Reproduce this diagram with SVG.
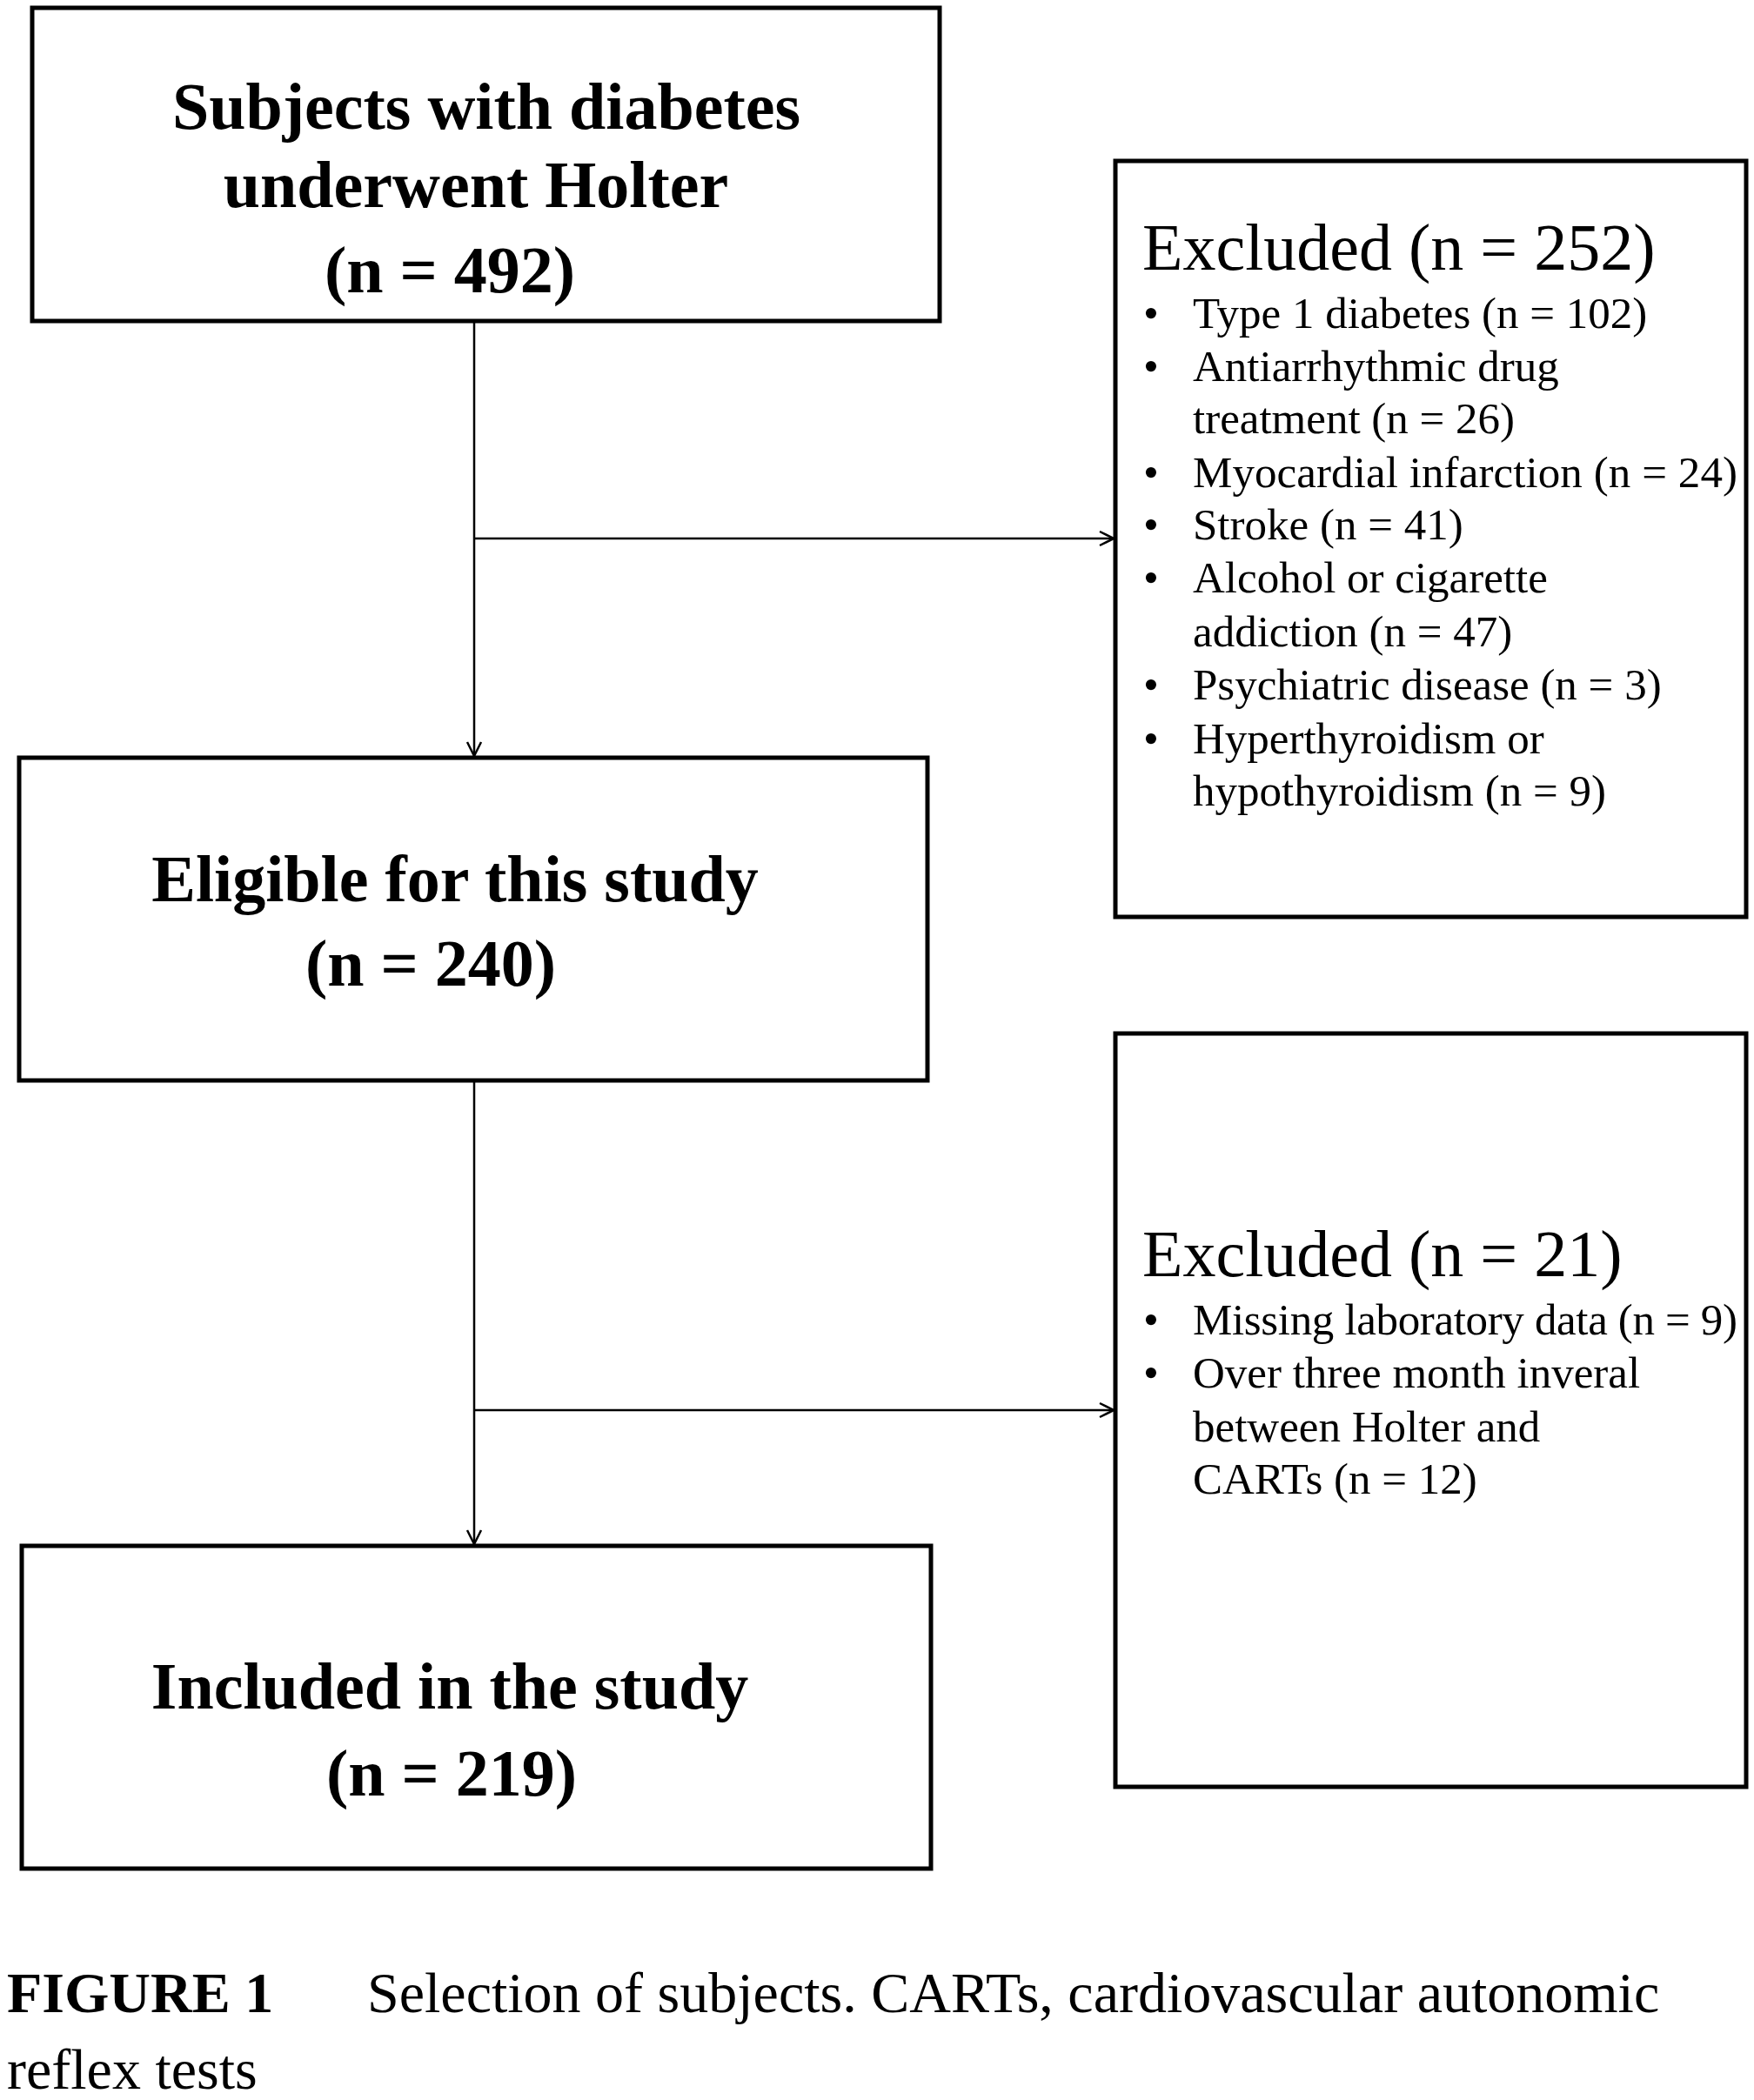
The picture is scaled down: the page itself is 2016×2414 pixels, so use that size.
<svg xmlns="http://www.w3.org/2000/svg" width="2016" height="2414" viewBox="0 0 2016 2414">
<style>
.box{fill:#fff;stroke:#000;stroke-width:5}
.b{font-family:"Liberation Serif",serif;font-weight:bold;font-size:76px;text-anchor:middle}
.t{font-family:"Liberation Serif",serif;font-size:76px}
.s{font-family:"Liberation Serif",serif;font-size:51px}
.c{font-family:"Liberation Serif",serif;font-size:66px}
.ln{stroke:#000;stroke-width:2.5;fill:none}
</style>
<defs><marker id="a" markerWidth="20" markerHeight="20" refX="18" refY="10" orient="auto" markerUnits="userSpaceOnUse"><path d="M2,2 L18,10 L2,18" fill="none" stroke="#000" stroke-width="2.5"/></marker></defs>
<rect width="2016" height="2414" fill="#fff"/>
<g id="connectors">
<line class="ln" x1="545" y1="369" x2="545" y2="869" marker-end="url(#a)"/>
<line class="ln" x1="545" y1="619" x2="1280" y2="619" marker-end="url(#a)"/>
<line class="ln" x1="545" y1="1242" x2="545" y2="1775" marker-end="url(#a)"/>
<line class="ln" x1="545" y1="1621" x2="1280" y2="1621" marker-end="url(#a)"/>
</g>
<g id="n1"><rect class="box" x="37" y="9" width="1043" height="360"/>
<text class="b" x="559" y="148">Subjects with diabetes</text><text class="b" x="547" y="238">underwent Holter</text><text class="b" x="517" y="336">(n = 492)</text></g>
<g id="n2"><rect class="box" x="22" y="871" width="1044" height="371"/>
<text class="b" x="523" y="1036">Eligible for this study</text><text class="b" x="495" y="1133">(n = 240)</text></g>
<g id="n3"><rect class="box" x="25" y="1777" width="1045" height="371"/>
<text class="b" x="517" y="1964">Included in the study</text><text class="b" x="519" y="2064">(n = 219)</text></g>
<g id="ex1"><rect class="box" x="1282" y="185" width="725" height="869"/>
<text class="t" x="1313" y="310">Excluded (n = 252)</text>
<g class="s">
<text x="1314" y="377">•</text><text x="1371" y="377">Type 1 diabetes (n = 102)</text>
<text x="1314" y="438">•</text><text x="1371" y="438">Antiarrhythmic drug</text>
<text x="1371" y="498">treatment  (n = 26)</text>
<text x="1314" y="560">•</text><text x="1371" y="560" textLength="626">Myocardial infarction  (n = 24)</text>
<text x="1314" y="620">•</text><text x="1371" y="620">Stroke (n = 41)</text>
<text x="1314" y="681">•</text><text x="1371" y="681">Alcohol or cigarette</text>
<text x="1371" y="743">addiction (n = 47)</text>
<text x="1314" y="804">•</text><text x="1371" y="804">Psychiatric disease (n = 3)</text>
<text x="1314" y="866">•</text><text x="1371" y="866">Hyperthyroidism or</text>
<text x="1371" y="926">hypothyroidism (n = 9)</text>
</g></g>
<g id="ex2"><rect class="box" x="1282" y="1188" width="725" height="866"/>
<text class="t" x="1313" y="1467">Excluded (n = 21)</text>
<g class="s">
<text x="1314" y="1534">•</text><text x="1371" y="1534" textLength="626">Missing laboratory data (n = 9)</text>
<text x="1314" y="1595">•</text><text x="1371" y="1595">Over three month inveral</text>
<text x="1371" y="1657">between Holter and</text>
<text x="1371" y="1717">CARTs (n = 12)</text>
</g></g>
<g id="caption">
<text class="c" x="8" y="2313" font-weight="bold" font-size="50">FIGURE 1</text>
<text class="c" x="422" y="2313">Selection of subjects. CARTs, cardiovascular autonomic</text>
<text class="c" x="8" y="2401">reflex tests</text>
</g>
</svg>
